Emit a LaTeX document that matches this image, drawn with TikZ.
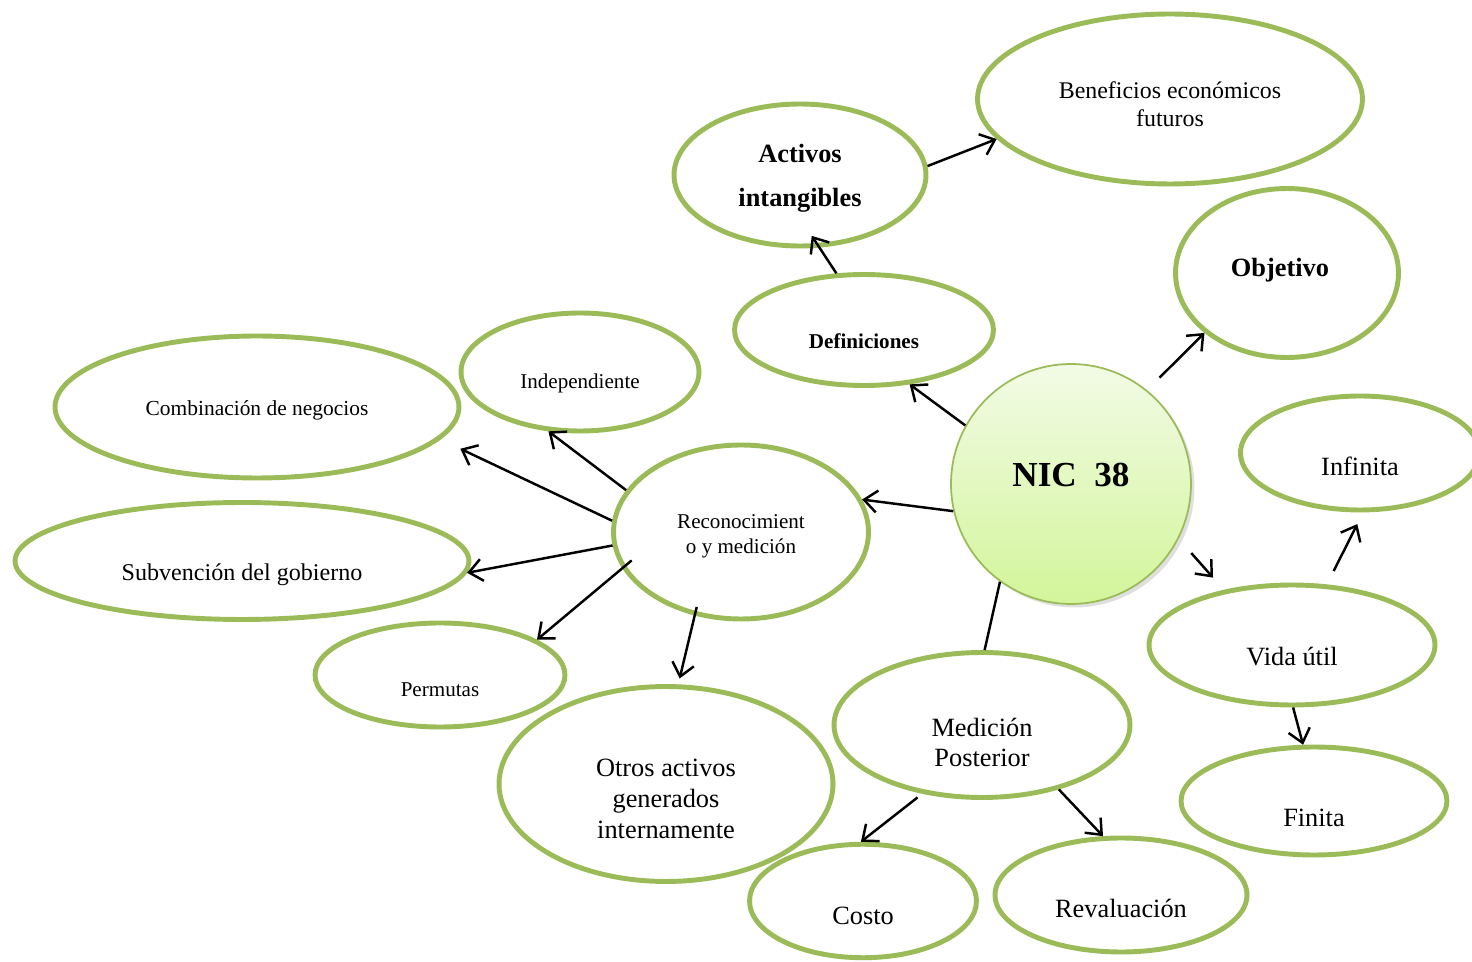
\documentclass[tikz,border=0pt]{standalone}
\usepackage{fontspec}
\setmainfont{Liberation Serif}
\usepackage{tikz}
\usetikzlibrary{shapes.geometric,arrows.meta,shadows}
\definecolor{ovalgreen}{HTML}{9BBB59}
\definecolor{nictop}{HTML}{F2FBE6}
\definecolor{nicbottom}{HTML}{D3F59A}
\newcommand\fsz[2]{\fontsize{#1}{#2}\selectfont}

\begin{document}
\begin{tikzpicture}[x=0.02cm,y=-0.02cm,
  oval/.style={ellipse, draw=ovalgreen, line width=2.8pt, inner sep=0pt},
  txt/.style={align=center, text=black},
  arr/.style={-{Straight Barb[length=7.5pt,width=12.5pt]}, line width=1.4pt}]
\useasboundingbox (0,0) rectangle (1472,962);

\node[oval, minimum width=7.70cm, minimum height=3.40cm,
  label={[txt,font=\fsz{13.6}{16},yshift=-2.8pt]center:Beneficios económicos\\futuros}] (ben) at (1170,99) {};
\node[oval, minimum width=5.04cm, minimum height=2.84cm,
  label={[txt,font=\fsz{15}{25}\bfseries,yshift=-1.7pt]center:Activos\\intangibles}] (act) at (800,175) {};
\node[oval, minimum width=4.46cm, minimum height=3.38cm,
  label={[txt,font=\fsz{15}{18}\bfseries,xshift=-4pt,yshift=1.7pt]center:Objetivo}] (obj) at (1287,273) {};
\node[oval, minimum width=5.18cm, minimum height=2.22cm,
  label={[txt,font=\fsz{12}{14}\bfseries,yshift=-6.3pt]center:Definiciones}] (def) at (864,330) {};
\node[oval, minimum width=8.08cm, minimum height=2.84cm,
  label={[txt,font=\fsz{12.2}{14},yshift=-1.7pt]center:Combinación de negocios}] (comb) at (257,407) {};
\node[oval, minimum width=4.76cm, minimum height=2.36cm,
  label={[txt,font=\fsz{12}{14},yshift=-6.3pt]center:Independiente}] (ind) at (580,372) {};
\node[oval, minimum width=5.10cm, minimum height=3.48cm,
  label={[txt,font=\fsz{12}{14.2},yshift=-2.3pt]center:Reconocimient\\o y medición}] (rec) at (741,532) {};
\node[circle, draw=ovalgreen, line width=1pt, minimum size=4.80cm, inner sep=0pt,
  top color=nictop, bottom color=nicbottom,
  drop shadow={opacity=0.25, shadow xshift=2pt, shadow yshift=-2pt},
  label={[txt,font=\fsz{20}{24}\bfseries,yshift=5.1pt]center:NIC\ \ 38}] (nic) at (1071,484) {};
\node[oval, minimum width=4.78cm, minimum height=2.28cm,
  label={[txt,font=\fsz{15}{18},yshift=-7.4pt]center:Infinita}] (inf) at (1360,453) {};
\node[oval, minimum width=9.08cm, minimum height=2.34cm,
  label={[txt,font=\fsz{13.7}{16},yshift=-8pt]center:Subvención del gobierno}] (sub) at (242,561) {};
\node[oval, minimum width=5.72cm, minimum height=2.40cm,
  label={[txt,font=\fsz{15}{18},yshift=-6.3pt]center:Vida útil}] (vida) at (1292,645) {};
\node[oval, minimum width=5.00cm, minimum height=2.08cm,
  label={[txt,font=\fsz{12}{14},yshift=-8.6pt]center:Permutas}] (perm) at (440,675) {};
\node[oval, minimum width=6.68cm, minimum height=3.90cm,
  label={[txt,font=\fsz{15}{17.4},yshift=-8.5pt]center:Otros activos\\generados\\internamente}] (otros) at (666,784) {};
\node[oval, minimum width=5.92cm, minimum height=2.90cm,
  label={[txt,font=\fsz{15}{17},yshift=-9.7pt]center:Medición\\Posterior}] (med) at (982,725) {};
\node[oval, minimum width=5.32cm, minimum height=2.16cm,
  label={[txt,font=\fsz{15}{18},yshift=-9.7pt]center:Finita}] (fin) at (1314,801) {};
\node[oval, minimum width=4.54cm, minimum height=2.27cm,
  label={[txt,font=\fsz{15}{18},yshift=-8.5pt]center:Costo}] (cost) at (863,901) {};
\node[oval, minimum width=5.04cm, minimum height=2.28cm,
  label={[txt,font=\fsz{15}{18},yshift=-7.4pt]center:Revaluación}] (rev) at (1121,895) {};

\draw[arr] (nic.151) -- (def.-50);
\draw[arr, shorten >=-8pt] (def.116) -- (act.-75.5);
\draw[arr] (act.4) -- (ben.193);

\draw[arr, shorten <=10pt] (nic.51.5) -- (obj.216.7);
\draw[arr] (nic.193) -- (rec.15.5);

\draw[arr, shorten <=10.8pt, shorten >=9.3pt] (nic.-27) -- (vida.141);
\draw[arr, shorten <=8.5pt, shorten >=7.4pt] (vida.60) -- (inf.-87);
\draw[arr] (vida.-89) -- (fin.101);

\draw[line width=1.4pt] (nic.234) -- (med.88);
\draw[arr, shorten <=3.4pt] (med.229) -- (cost.92);
\draw[arr] (med.-40) -- (rev.107);

\draw[arr] (rec.160) -- (ind.242);
\draw[arr, shorten >=12.5pt] (rec.175) -- (comb.-10);
\draw[arr] (rec.186) -- (sub.-3);
\draw[arr, shorten <=-7pt] (rec.197) -- (perm.20);
\draw[arr, shorten <=-5pt, shorten >=3.4pt] (rec.241) -- (otros.83);
\end{tikzpicture}
\end{document}
